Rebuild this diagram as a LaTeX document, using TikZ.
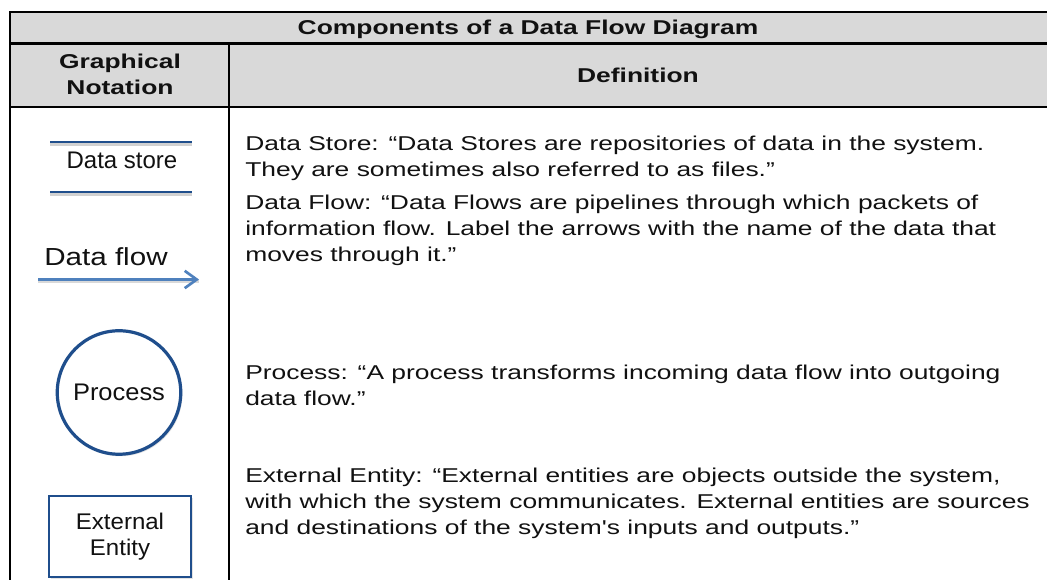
\documentclass[tikz,border=0pt]{standalone}
\usepackage{fontspec}
\setmainfont{Liberation Sans}
\newfontfamily\bodyfont[FakeStretch=1.32]{Liberation Sans}
\newfontfamily\flowfont[FakeStretch=1.2]{Liberation Sans}
\newfontfamily\procfont[FakeStretch=1.06]{Liberation Sans}
\usetikzlibrary{arrows.meta,shadows}
\definecolor{headgray}{HTML}{D9D9D9}
\definecolor{navy}{HTML}{1F4E8C}
\definecolor{flowblue}{HTML}{4F81BD}
\definecolor{ink}{HTML}{111111}

\begin{document}
\begin{tikzpicture}[x=0.75pt,y=-0.75pt,
  rule/.style={line width=1.6pt, black},
  headtext/.style={font=\bodyfont\bfseries\fontsize{15pt}{19.5pt}\selectfont, align=center, inner sep=0pt, text=ink},
  deftext/.style={font=\bodyfont\fontsize{15pt}{19.5pt}\selectfont, align=left, anchor=north west, inner sep=0pt, text=ink},
  symtext/.style={font=\fontsize{18pt}{19.5pt}\selectfont, inner sep=0pt, text=ink},
  symline/.style={navy, line width=2.2pt},
  symshadow/.style={black!18, line width=2.6pt},
  softshadow/.style={drop shadow={opacity=0.22, shadow xshift=1.2pt, shadow yshift=-1.5pt}},
]
\useasboundingbox (0,0) rectangle (1047,580);
\clip (0,0) rectangle (1047,580);
\fill[white] (0,0) rectangle (1047,580);

% header band
\fill[headgray] (10,12) rectangle (1060,107);

% table rules
\draw[rule] (10,12) -- (1060,12);
\draw[rule] (10,43.5) -- (1060,43.5);
\draw[rule] (10,107) -- (1060,107);
\draw[rule] (10,11.2) -- (10,590);
\draw[rule] (229,43.5) -- (229,590);

% header texts
\node[headtext, anchor=base] (title) at (528,35) {Components of a Data Flow Diagram};
\node[headtext] (notation) at (120,74) {Graphical\\Notation};
\node[headtext, anchor=base] (definition) at (638,83) {Definition};

% data store symbol
\coordinate (dsTL) at (50,142);
\coordinate (dsTR) at (192,142);
\coordinate (dsBL) at (50,192);
\coordinate (dsBR) at (192,192);
\draw[symshadow] ([yshift=-1.5pt]dsTL) -- ([yshift=-1.5pt]dsTR);
\draw[symshadow] ([yshift=-1.5pt]dsBL) -- ([yshift=-1.5pt]dsBR);
\draw[symline] (dsTL) -- (dsTR);
\draw[symline] (dsBL) -- (dsBR);
\node[symtext, anchor=base] (dslabel) at (122,169) {Data store};

% data flow symbol
\node[symtext, font=\flowfont\fontsize{18.5pt}{20pt}\selectfont, anchor=base] (dflabel) at (106,266) {Data flow};
\coordinate (dfstart) at (38,279.5);
\coordinate (dfend) at (199,279.5);
\draw[black!15, line width=2.4pt] ([yshift=-1.5pt]dfstart) -- ([yshift=-1.5pt]dfend);
\draw[flowblue, line width=2pt, -{Straight Barb[length=9pt, width=13pt, line width=2pt]}] (dfstart) -- (dfend);

% process symbol
\node[circle, draw=navy, line width=2.4pt, fill=white, minimum size=123.5pt*0.75, inner sep=0pt,
      softshadow, symtext, font=\procfont\fontsize{18pt}{19.5pt}\selectfont] (process) at (119,392.5) {Process};

% external entity symbol
\node[rectangle, draw=navy, line width=2.2pt, fill=white, minimum width=142*0.75pt, minimum height=81*0.75pt,
      softshadow, symtext, font=\procfont\fontsize{17pt}{19.5pt}\selectfont, align=center] (entity) at (120,536.5) {External\\Entity};

% definitions (each node top sits 20px above its first baseline)
\node[deftext] (defstore) at (245,130) {\rule{0pt}{15pt}Data Store: “Data Stores are repositories of data in the system.\\
They are sometimes also referred to as files.”};
\node[deftext] (defflow) at (245,189) {\rule{0pt}{15pt}Data Flow: “Data Flows are pipelines through which packets of\\
information flow. Label the arrows with the name of the data that\\
moves through it.”};
\node[deftext] (defprocess) at (245,359) {\rule{0pt}{15pt}Process: “A process transforms incoming data flow into outgoing\\
data flow.”};
\node[deftext] (defentity) at (245,462) {\rule{0pt}{15pt}External Entity: “External entities are objects outside the system,\\
with which the system communicates. External entities are sources\\
and destinations of the system\symbol{39}s inputs and outputs.”};
\end{tikzpicture}
\end{document}
